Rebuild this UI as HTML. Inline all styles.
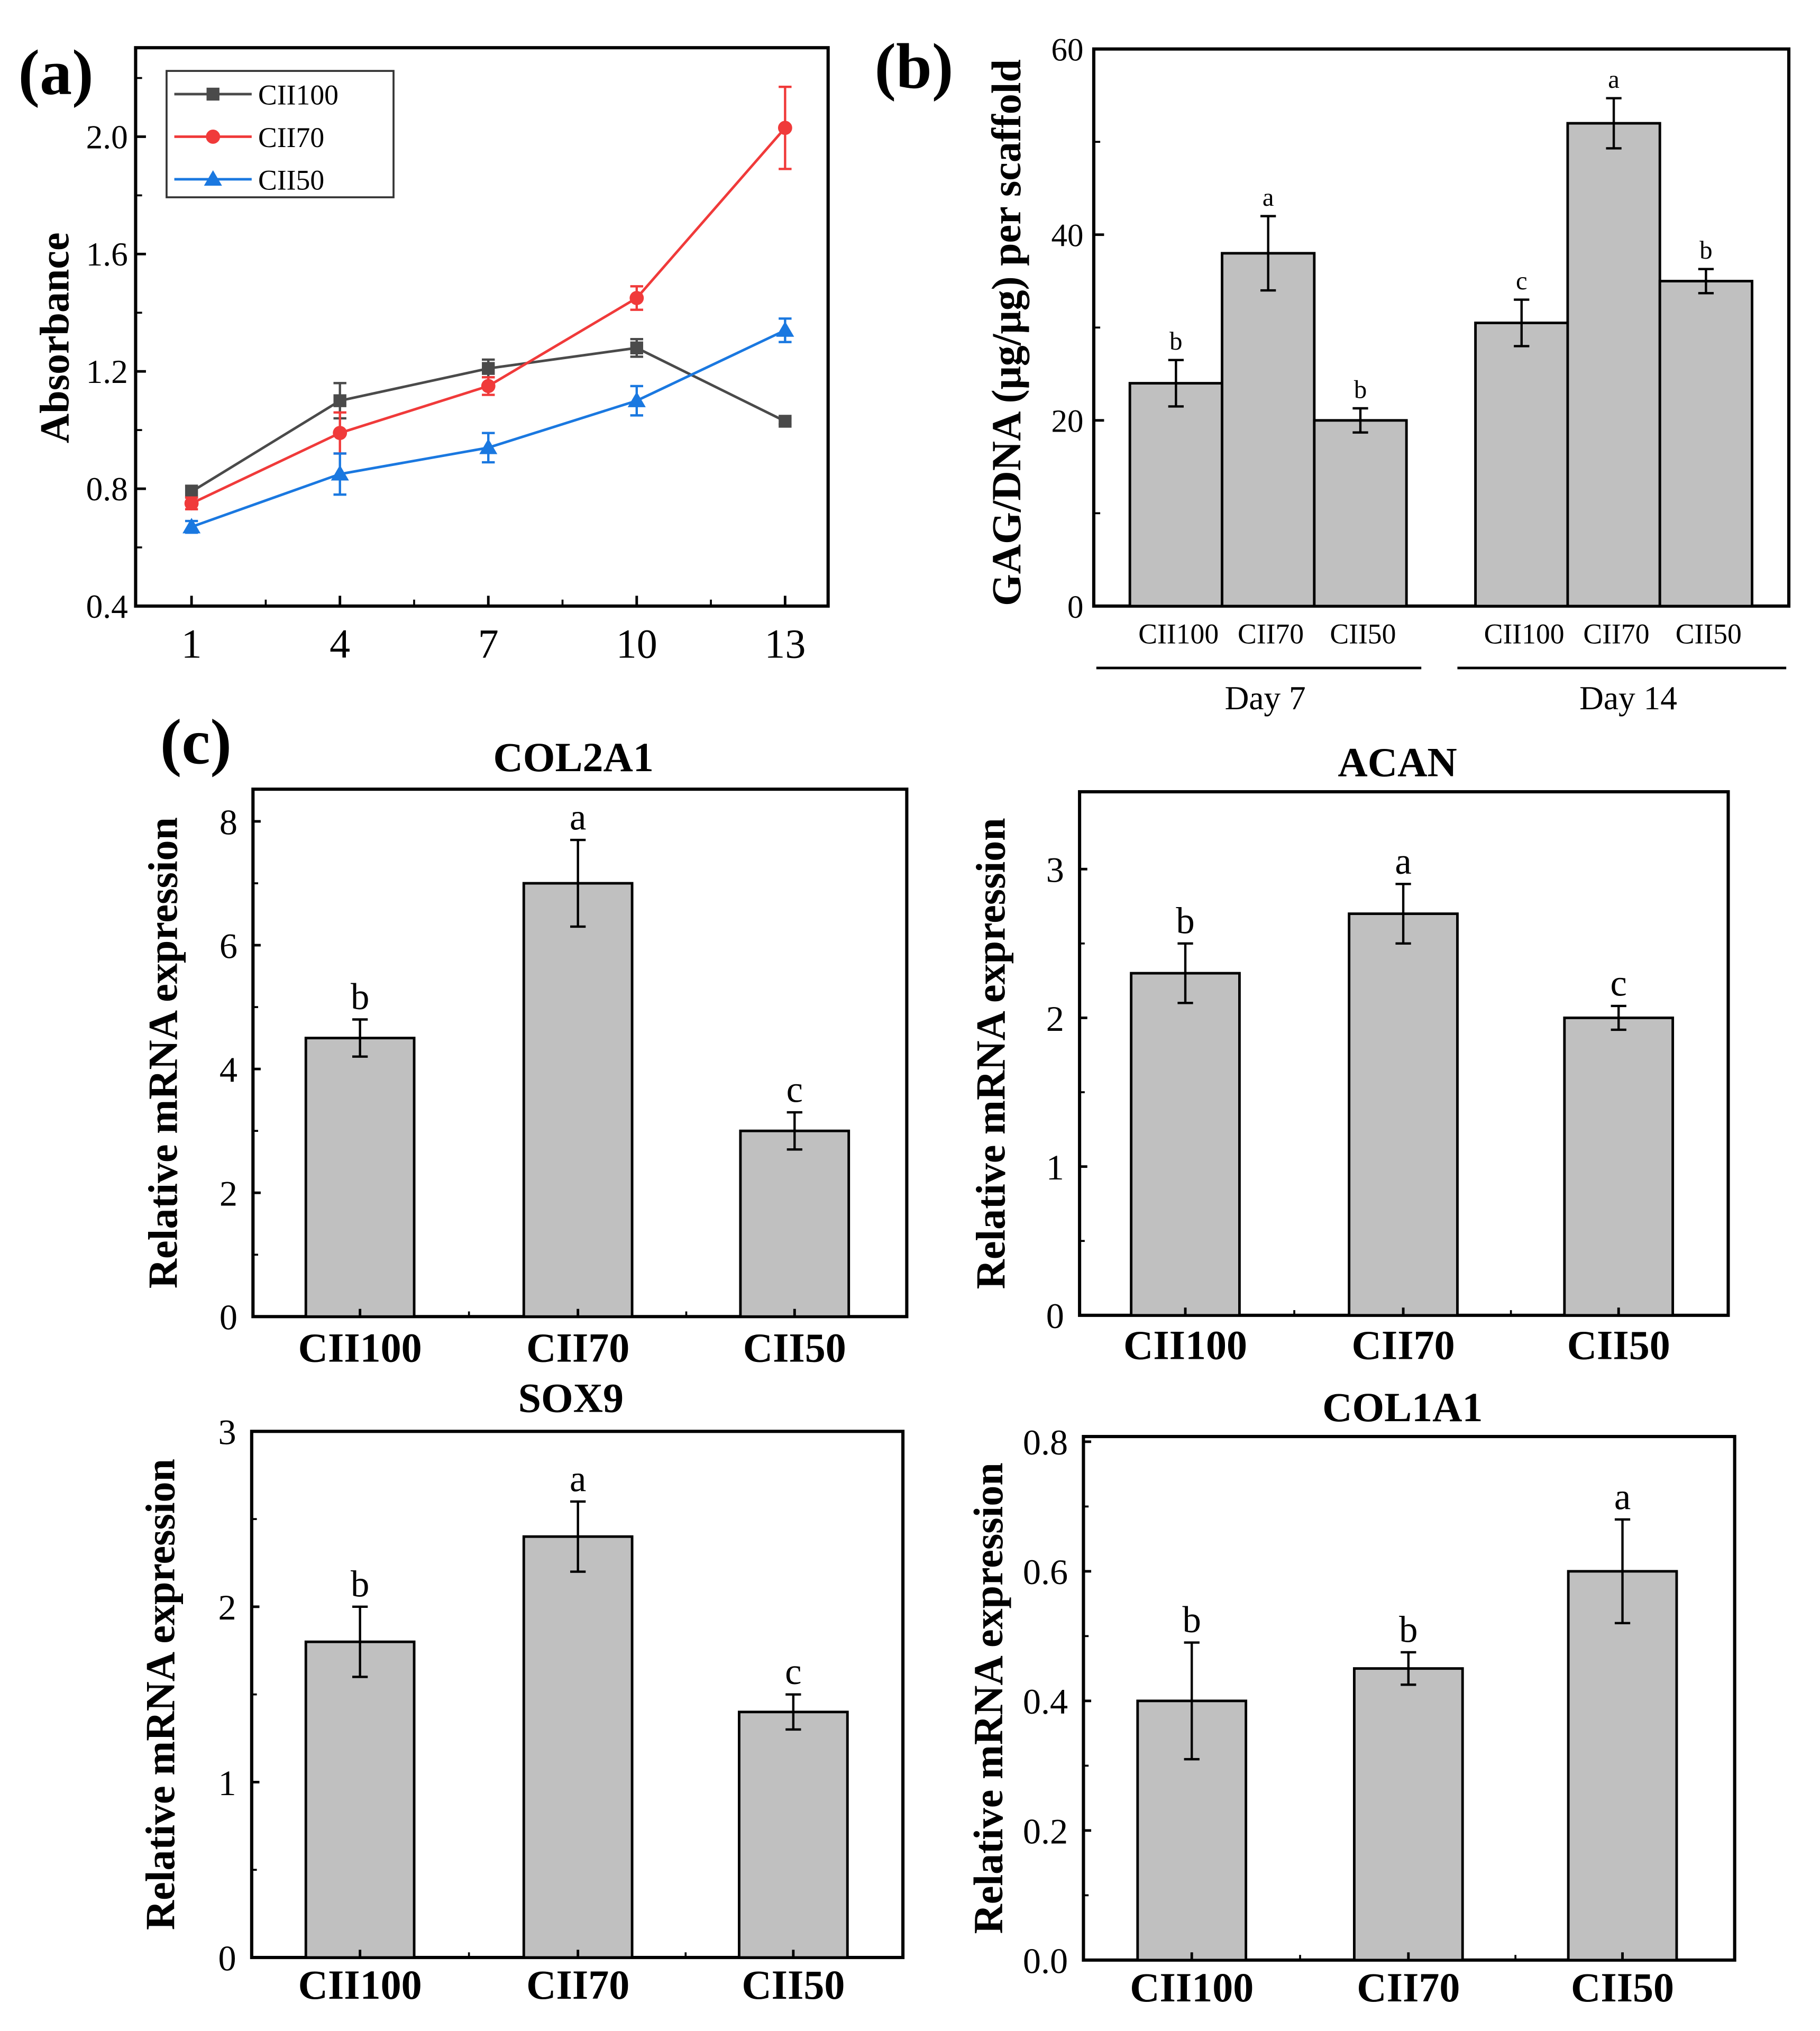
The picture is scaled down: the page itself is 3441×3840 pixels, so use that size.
<!DOCTYPE html>
<html><head><meta charset="utf-8"><style>
html,body{margin:0;padding:0;background:#fff}
svg{display:block}
text{font-family:"Liberation Serif",serif;fill:#000}
</style></head><body>
<svg id="fig" width="3441" height="3840" viewBox="0 0 1411 1575" xmlns="http://www.w3.org/2000/svg"></svg>
<script>
// Panel (a) data
const aDays = [1, 4, 7, 10, 13];
const aNames = ["CII100", "CII70", "CII50"];
const aCII100 = [0.79, 1.10, 1.21, 1.28, 1.03];
const aCII100Err = [0.02, 0.06, 0.03, 0.03, 0.01];
const aCII70 = [0.75, 0.99, 1.15, 1.45, 2.03];
const aCII70Err = [0.02, 0.07, 0.03, 0.04, 0.14];
const aCII50 = [0.67, 0.85, 0.94, 1.10, 1.34];
const aCII50Err = [0.02, 0.07, 0.05, 0.05, 0.04];
const aYTicks = [0.4, 0.8, 1.2, 1.6, 2.0];
// Panel (b) data
const bCats = ["CII100", "CII70", "CII50"];
const bDay7 = [24, 38, 20];
const bDay7Err = [2.5, 4, 1.3];
const bDay7Letters = ["b", "a", "b"];
const bDay14 = [30.5, 52, 35];
const bDay14Err = [2.5, 2.7, 1.3];
const bDay14Letters = ["c", "a", "b"];
const bYTicks = [0, 20, 40, 60];
// Panel (c) data
const cCats = ["CII100", "CII70", "CII50"];
const col2a1 = [4.5, 7.0, 3.0];
const col2a1Err = [0.3, 0.7, 0.3];
const col2a1Letters = ["b", "a", "c"];
const col2a1Ticks = [0, 2, 4, 6, 8];
const acan = [2.3, 2.7, 2.0];
const acanErr = [0.2, 0.2, 0.08];
const acanLetters = ["b", "a", "c"];
const acanTicks = [0, 1, 2, 3];
const sox9 = [1.8, 2.4, 1.4];
const sox9Err = [0.2, 0.2, 0.1];
const sox9Letters = ["b", "a", "c"];
const sox9Ticks = [0, 1, 2, 3];
const col1a1 = [0.40, 0.45, 0.60];
const col1a1Err = [0.09, 0.025, 0.08];
const col1a1Letters = ["b", "b", "a"];
const col1a1Ticks = [0.0, 0.2, 0.4, 0.6, 0.8];

const NS = "http://www.w3.org/2000/svg";
const svg = document.getElementById("fig");
function mk(tag, attrs, parent, txt) {
  const e = document.createElementNS(NS, tag);
  for (const k in attrs) e.setAttribute(k, attrs[k]);
  if (txt !== undefined) e.textContent = txt;
  (parent || svg).appendChild(e);
  return e;
}
function line(x1, y1, x2, y2, c, w, p) { return mk("line", {x1, y1, x2, y2, stroke: c || "#000", "stroke-width": w || 2}, p); }

// ---------- Panel (a) ----------
const aL = 105, aR = 642, aT = 37, aB = 470;
const ax = d => aL + (d - 0) / 14 * (aR - aL) + 5;
const ay = v => aB - (v - 0.4) / 0.4 * 91;
const ga = mk("g", {});


let t = mk("text", {x: 14, y: 73, "font-size": 50, "font-weight": "bold"}, ga, "(a)");


mk("rect", {x: aL, y: aT, width: aR - aL, height: aB - aT, fill: "none", stroke: "#000", "stroke-width": 2.5}, ga);
aYTicks.forEach(v => {
  line(aL, ay(v), aL + 8, ay(v), "#000", 2, ga);
  line(aL, ay(v + 0.2), aL + 5, ay(v + 0.2), "#000", 1.5, ga);
  const tt = mk("text", {x: aL - 6, y: ay(v) + 9, "font-size": 26, "text-anchor": "end"}, ga, v.toFixed(1));
  
  
});
aDays.forEach((d, i) => {
  line(ax(d), aB, ax(d), aB - 8, "#000", 2, ga);
  if (i < aDays.length - 1) line(ax(d + 1.5), aB, ax(d + 1.5), aB - 5, "#000", 1.5, ga);
  const tt = mk("text", {x: ax(d), y: aB + 40, "font-size": 32, "text-anchor": "middle"}, ga, String(d));
  
  
});
t = mk("text", {transform: "translate(53,262) rotate(-90)", "font-size": 32, "font-weight": "bold", "text-anchor": "middle"}, ga, "Absorbance");


const aSeries = [[aCII100, aCII100Err, "#4a4a4a", "sq"], [aCII70, aCII70Err, "#f03a3a", "ci"], [aCII50, aCII50Err, "#1a78e0", "tr"]];
function marker(x, y, kind, c, p) {
  if (kind === "sq") return mk("rect", {x: x - 5, y: y - 5, width: 10, height: 10, fill: c}, p);
  if (kind === "ci") return mk("circle", {cx: x, cy: y, r: 5.5, fill: c}, p);
  return mk("polygon", {points: `${x},${y - 7} ${x - 7},${y + 5} ${x + 7},${y + 5}`, fill: c}, p);
}
aSeries.forEach((s, i) => {
  const [vals, errs, c, kind] = s;
  const g = mk("g", {}, ga);
  
  
  mk("polyline", {points: vals.map((v, j) => ax(aDays[j]) + "," + ay(v)).join(" "), fill: "none", stroke: c, "stroke-width": 2}, g);
  vals.forEach((v, j) => {
    const x = ax(aDays[j]);
    line(x, ay(v - errs[j]), x, ay(v + errs[j]), c, 1.8, g);
    line(x - 5, ay(v - errs[j]), x + 5, ay(v - errs[j]), c, 1.8, g);
    line(x - 5, ay(v + errs[j]), x + 5, ay(v + errs[j]), c, 1.8, g);
    const m = marker(x, ay(v), kind, c, g);
    
    
  });
});
const leg = mk("g", {}, ga);


mk("rect", {x: 129, y: 55, width: 176, height: 98, fill: "#fff", stroke: "#333", "stroke-width": 1.5}, leg);
aSeries.forEach((s, i) => {
  const y = 73 + i * 33;
  line(135, y, 195, y, s[2], 2, leg);
  marker(165, y, s[3], s[2], leg);
  const le = mk("text", {x: 200, y: y + 8, "font-size": 22}, leg, aNames[i]);
  
  
});

// ---------- generic bar helper ----------
function bars(p, vals, errs, letters, centers, w, yf, letterSize) {
  vals.forEach((v, i) => {
    const cx = centers[i];
    const r = mk("rect", {x: cx - w / 2, y: yf(v), width: w, height: yf(0) - yf(v), fill: "#c0c0c0", stroke: "#000", "stroke-width": 2}, p);
    
    
    const yt = yf(v + errs[i]), yb = yf(v - errs[i]);
    line(cx, yt, cx, yb, "#000", 1.8, p);
    line(cx - 6, yt, cx + 6, yt, "#000", 1.8, p);
    line(cx - 6, yb, cx + 6, yb, "#000", 1.8, p);
    const l = mk("text", {x: cx, y: yt - 8, "font-size": letterSize, "text-anchor": "middle"}, p, letters[i]);
    
    
  });
}

// ---------- Panel (b) ----------
const bL = 848, bR = 1387, bT = 38, bB = 470;
const by = v => bB - v / 60 * (bB - bT);
const gb = mk("g", {});


t = mk("text", {x: 678, y: 68, "font-size": 50, "font-weight": "bold"}, gb, "(b)");


mk("rect", {x: bL, y: bT, width: bR - bL, height: bB - bT, fill: "none", stroke: "#000", "stroke-width": 2.5}, gb);
bYTicks.forEach(v => {
  line(bL, by(v), bL + 8, by(v), "#000", 2, gb);
  if (v < 60) line(bL, by(v + 10), bL + 5, by(v + 10), "#000", 1.5, gb);
  const tt = mk("text", {x: bL - 8, y: by(v) + 9, "font-size": 25, "text-anchor": "end"}, gb, String(v));
  
  
});
t = mk("text", {transform: "translate(791,258) rotate(-90)", "font-size": 32, "font-weight": "bold", "text-anchor": "middle"}, gb, "GAG/DNA (μg/μg) per scaffold");


const bW = 71.5;
const bC7 = bCats.map((c, i) => 876 + bW / 2 + i * bW);
const bC14 = bCats.map((c, i) => 1144 + bW / 2 + i * bW);
bars(gb, bDay7, bDay7Err, bDay7Letters, bC7, bW, by, 20);
bars(gb, bDay14, bDay14Err, bDay14Letters, bC14, bW, by, 20);
[[bC7, "Day 7", 850, 1102], [bC14, "Day 14", 1130, 1385]].forEach(([cs, lab, x1, x2]) => {
  cs.forEach((cx, i) => {
    const tt = mk("text", {x: cx + 2, y: 499, "font-size": 22, "text-anchor": "middle"}, gb, bCats[i]);
    
    
  });
  line(x1, 518, x2, 518, "#000", 2, gb);
  const dl = mk("text", {x: (x1 + x2) / 2 + 5, y: 550, "font-size": 26, "text-anchor": "middle"}, gb, lab);
  
  
});

// ---------- Panel (c) ----------
t = mk("text", {x: 124, y: 592, "font-size": 50, "font-weight": "bold"}, svg, "(c)");


function gene(name, L, R, T, B, yMax, ticks, fmt, vals, errs, letters, centers, titleY, xLabY, ylabX) {
  const g = mk("g", {});
  
  
  const yf = v => B - v / yMax * (B - T);
  mk("rect", {x: L, y: T, width: R - L, height: B - T, fill: "none", stroke: "#000", "stroke-width": 2.5}, g);
  bars(g, vals, errs, letters, centers, 84, yf, 29);
  ticks.forEach(v => {
    if (v > 0) line(L, yf(v), L + 6, yf(v), "#000", 2, g);
    const tt = mk("text", {x: L - 12, y: yf(v) + 10, "font-size": 28, "text-anchor": "end"}, g, fmt(v));
    
    
  });
  const step = ticks[1] - ticks[0];
  ticks.forEach(v => { if (yf(v + step / 2) > T + 6) line(L, yf(v + step / 2), L + 4, yf(v + step / 2), "#000", 1.5, g); });
  centers.forEach((cx, i) => line(cx, B, cx, B - 6, "#000", 2, g));
  line((centers[0] + centers[1]) / 2, B, (centers[0] + centers[1]) / 2, B - 4, "#000", 1.5, g);
  line((centers[1] + centers[2]) / 2, B, (centers[1] + centers[2]) / 2, B - 4, "#000", 1.5, g);
  const ti = mk("text", {x: (L + R) / 2 - 5, y: titleY, "font-size": 32, "font-weight": "bold", "text-anchor": "middle"}, g, name);
  
  
  centers.forEach((cx, i) => {
    const tt = mk("text", {x: cx, y: xLabY, "font-size": 32, "font-weight": "bold", "text-anchor": "middle"}, g, cCats[i]);
    
    
  });
  const yl = mk("text", {transform: `translate(${ylabX},${(T + B) / 2}) rotate(-90)`, "font-size": 32, "font-weight": "bold", "text-anchor": "middle"}, g, "Relative mRNA expression");
  
  
}
const f0 = v => String(v), f1 = v => v.toFixed(1);
gene("COL2A1", 196, 703, 612, 1021, 8.52, col2a1Ticks, f0, col2a1, col2a1Err, col2a1Letters, [279, 448, 616], 598, 1056, 137);
gene("ACAN", 837, 1340, 614, 1020, 3.52, acanTicks, f0, acan, acanErr, acanLetters, [919, 1088, 1255], 602, 1054, 779);
gene("SOX9", 195, 700, 1110, 1518, 3.0, sox9Ticks, f0, sox9, sox9Err, sox9Letters, [279, 448, 615], 1095, 1550, 135);
gene("COL1A1", 840, 1345, 1114, 1520, 0.808, col1a1Ticks, f1, col1a1, col1a1Err, col1a1Letters, [924, 1092, 1258], 1102, 1552, 777);
</script>
</body></html>
